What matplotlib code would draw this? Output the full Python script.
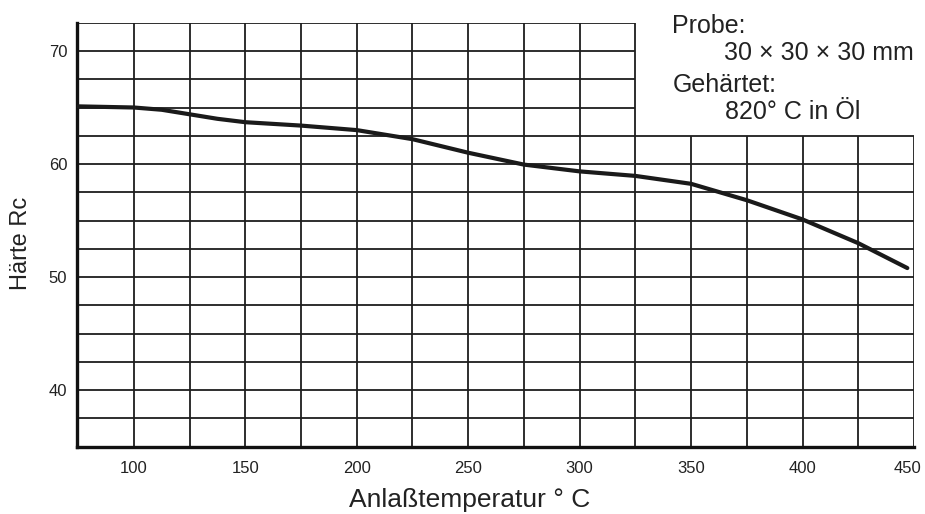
import matplotlib
matplotlib.use("Agg")
import matplotlib.pyplot as plt
import matplotlib.transforms as mtransforms
import numpy as np

plt.rcParams['font.family'] = ['Liberation Sans', 'DejaVu Sans']

# Data
temperature = [75, 100, 112.5, 125, 137.5, 150, 175, 200, 225, 250, 275, 300, 325, 350, 375, 400, 425, 447]
hardness    = [65.1, 65.0, 64.8, 64.4, 64.0, 63.7, 63.4, 63.0, 62.2, 61.0, 59.95, 59.35, 58.95, 58.25, 56.8, 55.1, 53.0, 50.8]

x_ticks = [100, 150, 200, 250, 300, 350, 400, 450]
y_ticks = [40, 50, 60, 70]
x_label = "Anlaßtemperatur ° C"
y_label = "Härte Rc"
note_lines = ["Probe:", "30 × 30 × 30 mm", "Gehärtet:", "820° C in Öl"]

xmin, xmax = 74.5, 450
ymin, ymax = 35, 72.5
x_grid_step, y_grid_step = 25, 2.5
cut_x, cut_y = 325, 62.5   # top-right corner left blank for the note

fig = plt.figure(figsize=(9.25, 5.14), dpi=100)
ax = fig.add_axes([77/925, 1-446.7/514, (914-77)/925, (446.7-22.7)/514])
ax.set_xlim(xmin, xmax)
ax.set_ylim(ymin, ymax)

gc = '#1e1e1e'
glw = 1.3
# vertical grid lines
for xv in np.arange(100, xmax + 1, x_grid_step):
    top = ymax if xv <= cut_x else cut_y
    ax.vlines(xv, ymin, top, color=gc, lw=glw, zorder=1)
# horizontal grid lines
for yv in np.arange(37.5, ymax + 0.1, y_grid_step):
    right = xmax if yv <= cut_y else cut_x
    ax.hlines(yv, xmin, right, color=gc, lw=glw, zorder=1)

for s in ['top', 'right']:
    ax.spines[s].set_visible(False)
for s in ['left', 'bottom']:
    ax.spines[s].set_linewidth(2.4)
    ax.spines[s].set_color('#111111')

ax.plot(temperature, hardness, color='#1a1a1a', lw=3.0, solid_capstyle='round', zorder=3)

ax.set_xticks(x_ticks)
ax.set_yticks(y_ticks)
ax.tick_params(length=0, labelsize=12, colors='#222222')
ax.tick_params(axis='x', pad=10)
ax.tick_params(axis='y', pad=7)

# keep the last x tick label inside the figure
last = ax.get_xticklabels()[-1]
last.set_transform(last.get_transform() + mtransforms.ScaledTranslation(-7/100, 0, fig.dpi_scale_trans))

fig.text(21/925, 1-243/514, y_label, rotation=90, fontsize=17, ha='center', va='center', color='#222222')
fig.text(470/925, 1-507/514, x_label, fontsize=19, ha='center', va='baseline', color='#222222')

note_pos = [(672, 33), (724, 60), (673, 92), (725, 119)]
for txt, (px, py) in zip(note_lines, note_pos):
    fig.text(px/925, 1-py/514, txt, fontsize=18, ha='left', va='baseline', color='#222222')

fig.savefig("out.png", dpi=100)
